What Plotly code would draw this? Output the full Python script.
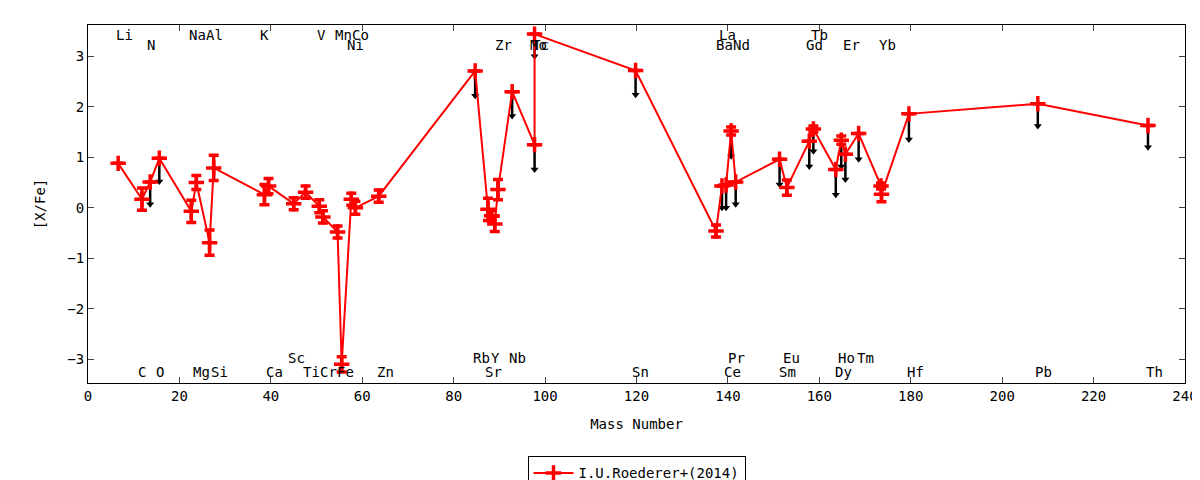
import plotly.graph_objects as go

mass = [6.6, 11.8, 13.6, 15.6, 22.6, 23.7, 26.6, 27.5, 38.6, 39.5, 45.0, 47.6, 50.6, 51.4, 54.6, 55.5, 57.6, 58.5, 63.6,
        84.7, 87.5, 88.3, 89.0, 89.7, 92.8, 97.7, 97.7, 119.8,
        137.4, 138.7, 139.6, 140.7, 141.7, 151.3, 152.9, 157.8, 158.7, 163.6, 164.8, 165.7, 168.6, 173.5, 173.6, 179.6, 207.8, 231.9]
val = [0.88, 0.17, 0.51, 0.98, -0.07, 0.50, -0.69, 0.79, 0.26, 0.43, 0.08, 0.31, 0.03, -0.18, -0.48, -3.10, 0.17, 0.0, 0.23,
       2.71, -0.03, -0.16, -0.32, 0.36, 2.30, 1.25, 3.44, 2.72,
       -0.46, 0.43, 0.45, 1.52, 0.51, 0.96, 0.40, 1.32, 1.56, 0.76, 1.34, 1.06, 1.47, 0.43, 0.27, 1.86, 2.06, 1.63]
err = [0.0, 0.22, 0.0, 0.0, 0.22, 0.14, 0.25, 0.25, 0.2, 0.15, 0.12, 0.12, 0.13, 0.12, 0.12, 0.15, 0.12, 0.13, 0.12,
       0.0, 0.22, 0.1, 0.15, 0.2, 0.0, 0.0, 0.0, 0.0,
       0.12, 0.0, 0.0, 0.08, 0.0, 0.0, 0.15, 0.0, 0.06, 0.0, 0.08, 0.0, 0.0, 0.06, 0.15, 0.0, 0.0, 0.0]
# upper-limit arrows: (mass, from, to)
lim_mass = [13.6, 15.6, 84.7, 92.8, 97.7, 97.7, 119.8, 138.7, 139.6, 140.7, 141.7, 151.3, 157.8, 158.7, 163.6, 164.8, 165.7, 168.6, 179.6, 207.8, 231.9]
lim_from = [0.51, 0.98, 2.71, 2.30, 1.25, 3.44, 2.72, 0.43, 0.45, 1.52, 0.51, 0.96, 1.32, 1.56, 0.76, 1.34, 1.06, 1.47, 1.86, 2.06, 1.63]
lim_to = [0.07, 0.52, 2.22, 1.82, 0.76, 3.0, 2.24, 0.0, 0.0, 1.02, 0.07, 0.46, 0.82, 1.12, 0.26, 0.82, 0.56, 0.96, 1.35, 1.62, 1.2]

top1 = ["Li", "Na", "Al", "K", "V", "Mn", "Co", "La", "Tb"]
top1_x = [7.9, 23.9, 27.6, 38.7, 51.0, 56.0, 59.7, 140.0, 160.0]
top2 = ["N", "Ni", "Zr", "Mo", "Tc", "Ba", "Nd", "Gd", "Er", "Yb"]
top2_x = [13.8, 58.6, 90.8, 98.5, 98.9, 139.2, 142.9, 159.0, 167.1, 175.0]
bot1 = ["Sc", "Rb", "Y", "Nb", "Pr", "Eu", "Ho", "Tm"]
bot1_x = [45.7, 86.0, 89.2, 93.9, 141.8, 154.0, 166.0, 170.2]
bot2 = ["C", "O", "Mg", "Si", "Ca", "Ti", "Cr", "Fe", "Zn", "Sr", "Sn", "Ce", "Sm", "Dy", "Hf", "Pb", "Th"]
bot2_x = [11.8, 15.75, 24.9, 28.7, 40.9, 49.0, 52.7, 56.4, 65.0, 88.8, 120.8, 141.1, 153.1, 165.2, 181.1, 209.1, 233.4]

FONT = "DejaVu Sans Mono"
fig = go.Figure()

lx, ly = [], []
for m, a, b in zip(lim_mass, lim_from, lim_to):
    lx += [m, m, None]
    ly += [a, b, None]
fig.add_trace(go.Scatter(x=lx, y=ly, mode="lines", line=dict(color="black", width=2.5),
                         showlegend=False, hoverinfo="skip"))
fig.add_trace(go.Scatter(x=lim_mass, y=lim_to, mode="markers",
                         marker=dict(symbol="triangle-down", size=7, color="black"),
                         showlegend=False, hoverinfo="skip"))
fig.add_trace(go.Scatter(x=mass, y=val, mode="lines+markers", name="I.U.Roederer+(2014)",
                         line=dict(color="red", width=2),
                         marker=dict(symbol="cross-thin", size=11, color="red", line=dict(color="red", width=3.5)),
                         error_y=dict(type="data", array=err, color="red", thickness=3.5, width=5)))

for labels, xs, yy in [(top1, top1_x, 3.42), (top2, top2_x, 3.22), (bot1, bot1_x, -2.97), (bot2, bot2_x, -3.25)]:
    for t, x in zip(labels, xs):
        fig.add_annotation(x=x, y=yy, text=t, showarrow=False, font=dict(family=FONT, size=14, color="black"))

fig.update_layout(
    width=1200, height=480, plot_bgcolor="white", paper_bgcolor="white",
    margin=dict(l=80, r=23, t=17, b=105, autoexpand=False),
    font=dict(family=FONT, size=14, color="black"),
    xaxis=dict(range=[0, 240], dtick=20, showgrid=False, zeroline=False, ticks="inside", ticklen=6,
               showline=True, linecolor="black", mirror="ticks", linewidth=1, automargin=False,
               title=dict(text="Mass Number", standoff=16, font=dict(size=14))),
    yaxis=dict(range=[-3.47, 3.62], dtick=1, showgrid=False, zeroline=False, ticks="inside", ticklen=6,
               showline=True, linecolor="black", mirror="ticks", linewidth=1, automargin=False,
               title=dict(text="[X/Fe]", standoff=18, font=dict(size=14))),
    legend=dict(x=0.5, y=-0.205, xanchor="center", yanchor="top", bordercolor="black", borderwidth=1,
                itemwidth=40, tracegroupgap=0),
)
fig.write_html("out.html")
